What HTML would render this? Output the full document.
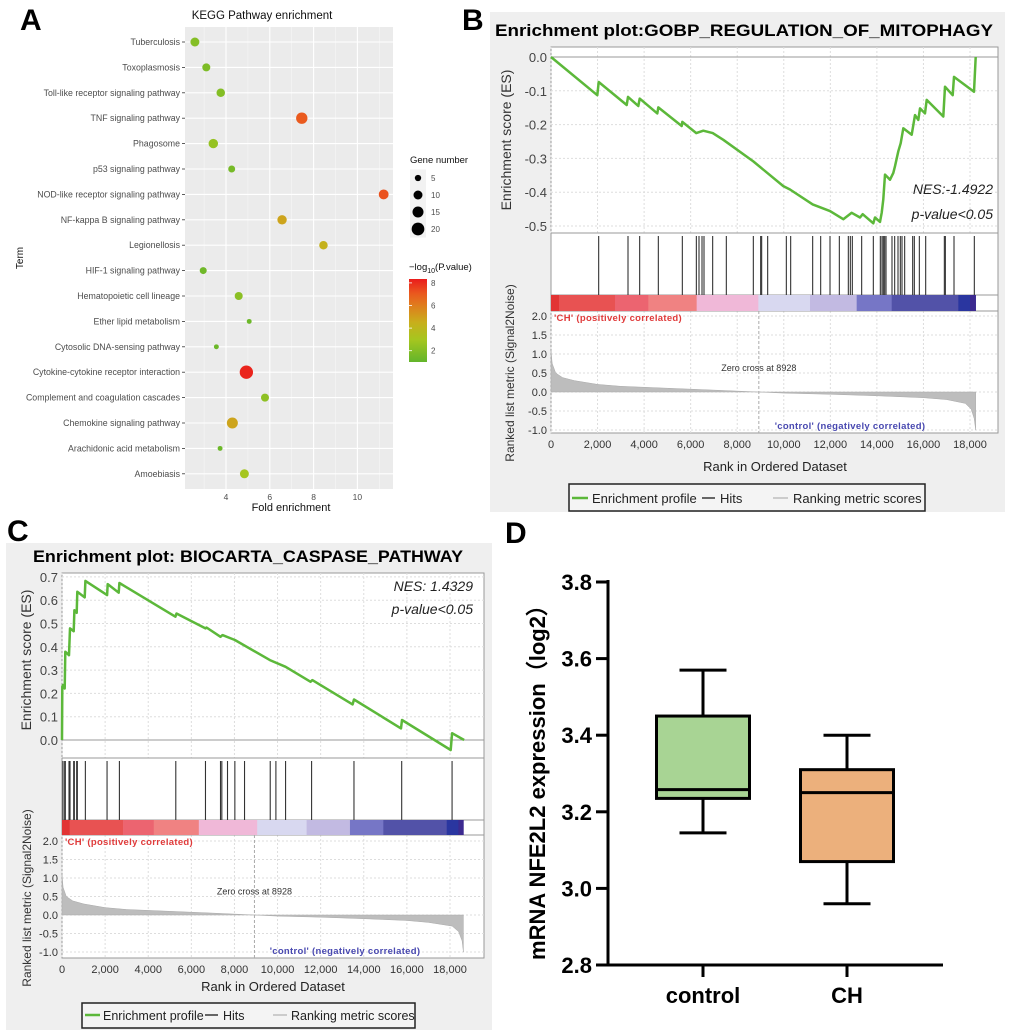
<!DOCTYPE html>
<html><head><meta charset="utf-8"><style>
html,body{margin:0;padding:0;background:#fff;}
svg{display:block;font-family:"Liberation Sans",Arial,sans-serif;}
</style></head><body>
<svg id="fig" width="1020" height="1036" viewBox="0 0 1020 1036" xmlns="http://www.w3.org/2000/svg">
<defs>
<linearGradient id="cbar" x1="0" y1="1" x2="0" y2="0">
<stop offset="0" stop-color="#62b52b"/><stop offset="0.27" stop-color="#a6c61f"/><stop offset="0.48" stop-color="#c9ae1c"/><stop offset="0.68" stop-color="#df7d1d"/><stop offset="0.82" stop-color="#ea5a1e"/><stop offset="1" stop-color="#ea1c1c"/>
</linearGradient>
</defs>
<text x="20" y="30" font-size="30" font-weight="bold">A</text>
<text x="462" y="30" font-size="30" font-weight="bold">B</text>
<text x="7" y="541" font-size="30" font-weight="bold">C</text>
<text x="505" y="543" font-size="30" font-weight="bold">D</text>

<g id="panelA">
<text x="262" y="19" font-size="11.5" text-anchor="middle" fill="#111">KEGG Pathway enrichment</text>
<rect x="185" y="27" width="208" height="462" fill="#ebebeb"/>
<g id="gridA"></g>
<g id="dotsA"></g>
<text x="291" y="511" font-size="11" text-anchor="middle" fill="#111">Fold enrichment</text>
<text transform="translate(23,258) rotate(-90)" font-size="10" text-anchor="middle" fill="#111">Term</text>
<text x="410" y="163" font-size="9.5" fill="#111">Gene number</text>
<g id="sizeLegend"></g>
<text x="409" y="270" font-size="9.5" fill="#111">−log<tspan font-size="7" dy="3">10</tspan><tspan dy="-3">(P.value)</tspan></text>
<rect x="409" y="279" width="18" height="83" fill="url(#cbar)"/>
<g id="cbarTicks"></g>
</g>

<g id="panelB">
<rect x="490" y="12" width="515" height="500" fill="#efefef"/>
<text x="495" y="36" font-size="17" font-weight="bold" textLength="498" lengthAdjust="spacingAndGlyphs" fill="#000">Enrichment plot:GOBP_REGULATION_OF_MITOPHAGY</text>
<g id="gB"></g>
<text transform="translate(511,140) rotate(-90)" font-size="14" text-anchor="middle" fill="#333">Enrichment score (ES)</text>
<text transform="translate(514,373) rotate(-90)" font-size="12" text-anchor="middle" fill="#333">Ranked list metric (Signal2Noise)</text>
<text x="775" y="471" font-size="13" text-anchor="middle" fill="#222">Rank in Ordered Dataset</text>
<text x="993" y="194" font-size="14" font-style="italic" text-anchor="end" fill="#222">NES:-1.4922</text>
<text x="993" y="219" font-size="14" font-style="italic" text-anchor="end" fill="#222">p-value&lt;0.05</text>
<g>
<rect x="569" y="484" width="356" height="27" fill="#f4f4f4" stroke="#222" stroke-width="1.5"/>
<line x1="572" y1="498" x2="588" y2="498" stroke="#5cb83a" stroke-width="2.5"/>
<text x="592" y="503" font-size="13" fill="#222">Enrichment profile</text>
<line x1="702" y1="498" x2="715" y2="498" stroke="#666" stroke-width="2"/>
<text x="720" y="503" font-size="13" fill="#222">Hits</text>
<line x1="773" y1="498" x2="788" y2="498" stroke="#ccc" stroke-width="2"/>
<text x="793" y="503" font-size="13" fill="#222">Ranking metric scores</text>
</g>
</g>

<g id="panelC">
<rect x="6" y="543" width="486" height="487" fill="#efefef"/>
<text x="33" y="562" font-size="17" font-weight="bold" textLength="430" lengthAdjust="spacingAndGlyphs" fill="#000">Enrichment plot: BIOCARTA_CASPASE_PATHWAY</text>
<g id="gC"></g>
<text transform="translate(31,660) rotate(-90)" font-size="14" text-anchor="middle" fill="#333">Enrichment score (ES)</text>
<text transform="translate(31,898) rotate(-90)" font-size="12" text-anchor="middle" fill="#333">Ranked list metric (Signal2Noise)</text>
<text x="273" y="991" font-size="13" text-anchor="middle" fill="#222">Rank in Ordered Dataset</text>
<text x="473" y="591" font-size="14" font-style="italic" text-anchor="end" fill="#222">NES: 1.4329</text>
<text x="473" y="614" font-size="14" font-style="italic" text-anchor="end" fill="#222">p-value&lt;0.05</text>
<g>
<rect x="82" y="1003" width="333" height="25" fill="#f4f4f4" stroke="#222" stroke-width="1.5"/>
<line x1="85" y1="1015" x2="100" y2="1015" stroke="#5cb83a" stroke-width="2.5"/>
<text x="103" y="1020" font-size="12.5" fill="#222">Enrichment profile</text>
<line x1="205" y1="1015" x2="218" y2="1015" stroke="#666" stroke-width="2"/>
<text x="223" y="1020" font-size="12.5" fill="#222">Hits</text>
<line x1="273" y1="1015" x2="287" y2="1015" stroke="#ccc" stroke-width="2"/>
<text x="291" y="1020" font-size="12.5" fill="#222">Ranking metric scores</text>
</g>
</g>

<g id="panelD">
<g id="gD"></g>
<text transform="translate(545,777) rotate(-90)" font-size="22" font-weight="bold" text-anchor="middle" fill="#000">mRNA NFE2L2 expression（log2）</text>
</g>
</svg>
<script>
const termsA = ["Tuberculosis","Toxoplasmosis","Toll-like receptor signaling pathway","TNF signaling pathway","Phagosome","p53 signaling pathway","NOD-like receptor signaling pathway","NF-kappa B signaling pathway","Legionellosis","HIF-1 signaling pathway","Hematopoietic cell lineage","Ether lipid metabolism","Cytosolic DNA-sensing pathway","Cytokine-cytokine receptor interaction","Complement and coagulation cascades","Chemokine signaling pathway","Arachidonic acid metabolism","Amoebiasis"];
const foldA = [2.58,3.10,3.76,7.46,3.42,4.26,11.2,6.56,8.45,2.96,4.58,5.06,3.56,4.93,5.78,4.29,3.73,4.84];
const genesA = [10,8,9,16,11,6,12,11,9,6,8,3,3,22,8,15,3,10];
const logpA = [2.0,1.8,2.0,7.0,2.5,1.6,7.2,4.8,4.3,1.4,2.2,1.3,1.3,8.3,2.3,4.8,1.3,3.0];
const xTicksA = [4,6,8,10];
const sizeLegendA = [5,10,15,20];
const cbarTicksA = [8,6,4,2];

const esRanksB = [0,1990,2048,3250,3308,3752,3809,4568,4611,5613,5642,6244,6544,6945,7403,8692,9981,10268,11241,11986,12559,12916,13274,13389,13847,13918,14134,14206,14277,14349,14563,14706,14778,14921,15021,15136,15494,15637,15780,15852,16067,16139,16855,16926,17256,17313,18172,18244];
const esValsB = [0,-0.113,-0.074,-0.142,-0.118,-0.145,-0.123,-0.167,-0.149,-0.204,-0.192,-0.225,-0.218,-0.225,-0.245,-0.309,-0.382,-0.392,-0.436,-0.456,-0.48,-0.461,-0.475,-0.465,-0.492,-0.475,-0.488,-0.461,-0.421,-0.348,-0.363,-0.343,-0.323,-0.279,-0.255,-0.211,-0.230,-0.172,-0.186,-0.152,-0.167,-0.127,-0.176,-0.088,-0.113,-0.059,-0.103,0];
const hitsB = [2048,3308,3809,4611,5642,6244,6358,6487,6573,6945,7532,8692,9007,9050,9308,10110,10296,11241,11585,11986,12387,12773,12859,12945,13346,13847,14148,14220,14277,14334,14392,14649,14764,14907,15007,15079,15193,15537,15609,15824,16096,16898,16941,17313,18186];
const metricRanksB = [0,50,200,500,1000,2000,3000,5000,7000,8928,10000,12000,14000,16000,17000,17800,18050,18180,18244];
const metricValsB = [1.1,0.75,0.5,0.38,0.3,0.2,0.15,0.1,0.05,0,-0.03,-0.06,-0.1,-0.15,-0.2,-0.3,-0.45,-0.7,-1.0];
const barEndsB = [344,2749,4181,6258,8907,11127,13131,14635,17499,18000,18244];
const esTicksB = [0,-0.1,-0.2,-0.3,-0.4,-0.5];

const esRanksC = [0,15,46,124,155,325,372,542,573,681,712,1053,1084,2090,2121,2632,2663,5263,5310,6656,6703,7353,7446,8019,9644,10372,11532,11610,13483,13545,15728,15774,18034,18096,18653];
const esValsC = [0,0.229,0.236,0.221,0.379,0.364,0.479,0.467,0.557,0.546,0.636,0.612,0.683,0.622,0.669,0.632,0.674,0.529,0.543,0.479,0.483,0.443,0.450,0.429,0.343,0.314,0.25,0.257,0.153,0.174,0.050,0.086,-0.043,0.029,0];
const hitsC = [46,124,155,325,372,542,573,681,712,1084,2090,2663,5279,6656,7353,7415,7678,8019,8468,9660,9923,10372,11579,13545,15759,18096];
const metricRanksC = [0,50,200,500,1000,2000,3000,5000,7000,8928,10000,12000,14000,16000,17000,18100,18400,18560,18620];
const metricValsC = [1.1,0.75,0.5,0.38,0.3,0.2,0.15,0.1,0.05,0,-0.03,-0.06,-0.1,-0.15,-0.2,-0.3,-0.45,-0.7,-1.0];
const barEndsC = [356,2833,4257,6347,9056,11347,13359,14907,17848,18390,18622];
const esTicksC = [0.7,0.6,0.5,0.4,0.3,0.2,0.1,0.0];

const barColors = ["#e23434","#e85252","#ec6470","#f08282","#f0b8d8","#d8d8f0","#c2bae2","#7676c6","#5252a8","#2a36a0","#3c2a90"];
const rankTicks = [0,2000,4000,6000,8000,10000,12000,14000,16000,18000];
const metricTicks = [2.0,1.5,1.0,0.5,0.0,-0.5,-1.0];

const groupsD = ["control","CH"];
const minD = [3.145,2.96];
const q1D = [3.235,3.07];
const medD = [3.258,3.25];
const q3D = [3.45,3.31];
const maxD = [3.57,3.40];
const fillD = ["#a8d494","#ecb07c"];
const yTicksD = [2.8,3.0,3.2,3.4,3.6,3.8];

const NS = "http://www.w3.org/2000/svg";
function mk(tag, attrs, parent){ const e=document.createElementNS(NS,tag); for(const k in attrs) e.setAttribute(k,attrs[k]); parent.appendChild(e); return e; }

(function(){
  const grid=document.getElementById('gridA'), dots=document.getElementById('dotsA'), A=document.getElementById('panelA');
  const xA=v=>226+(v-4)*21.9, yA=i=>42+i*25.4, rA=n=>1.42*Math.sqrt(n);
  const stops=[[1,[98,181,43]],[3,[166,198,31]],[4.5,[201,174,28]],[6,[223,125,29]],[7,[234,90,30]],[8.5,[234,28,28]]];
  function col(v){ if(v<=stops[0][0]) return 'rgb('+stops[0][1]+')'; for(let i=1;i<stops.length;i++){ if(v<=stops[i][0]){ const t=(v-stops[i-1][0])/(stops[i][0]-stops[i-1][0]); const c=stops[i-1][1].map((a,j)=>Math.round(a+(stops[i][1][j]-a)*t)); return 'rgb('+c+')'; } } return 'rgb('+stops[stops.length-1][1]+')'; }
  for(let v=3; v<=11; v+=2){ let e=mk('line',{x1:xA(v),x2:xA(v),y1:27,y2:489,stroke:'#f6f6f6','stroke-width':0.6},grid);
    
     }
  xTicksA.forEach(v=>{ let e=mk('line',{x1:xA(v),x2:xA(v),y1:27,y2:489,stroke:'#fff','stroke-width':1.1},grid);
    
    
    let t=mk('text',{x:xA(v),y:500,'font-size':8.5,'text-anchor':'middle',fill:'#4d4d4d'},A); t.textContent=v;
    
     });
  termsA.forEach((name,i)=>{
    let e=mk('line',{x1:185,x2:393,y1:yA(i),y2:yA(i),stroke:'#fff','stroke-width':1.1},grid);
    
    
    let tk=mk('line',{x1:182,x2:185,y1:yA(i),y2:yA(i),stroke:'#333','stroke-width':0.8},grid);
    
    
    let t=mk('text',{x:180,y:yA(i)+3,'font-size':8.8,'text-anchor':'end',fill:'#4d4d4d'},A); t.textContent=name;
    
    
    let c=mk('circle',{cx:xA(foldA[i]),cy:yA(i),r:rA(genesA[i]),fill:col(logpA[i])},dots);
    
    
  });
  const sl=document.getElementById('sizeLegend');
  sizeLegendA.forEach((n,i)=>{ const y=178+i*17;
    let b=mk('rect',{x:410,y:y-8.5,width:16,height:17,fill:'#f2f2f2'},sl);
    
    
    let c=mk('circle',{cx:418,cy:y,r:rA(n),fill:'#000'},sl);
    
    
    let t=mk('text',{x:431,y:y+3,'font-size':8,fill:'#4d4d4d'},sl); t.textContent=n;
    
     });
  const ct=document.getElementById('cbarTicks');
  cbarTicksA.forEach(v=>{ const y=362-(v-1)*11.3;
    let t=mk('text',{x:431,y:y+3,'font-size':8,fill:'#4d4d4d'},ct); t.textContent=v;
    
    
    let l=mk('line',{x1:409,x2:412,y1:y,y2:y,stroke:'#fff','stroke-width':0.8},ct);
    
     });
})();

function gsea(gid, p){
  const g=document.getElementById(gid);
  const X=r=>p.x0+r*p.xs, ES=v=>p.es0-v*p.esk, M=m=>p.m2+(2-m)*p.mk;
  let fr=mk('rect',{x:p.L,y:p.T,width:p.R-p.L,height:p.B-p.T,fill:'#fff',stroke:'#999','stroke-width':1},g);
  
  
  rankTicks.forEach(r=>{ let e=mk('line',{x1:X(r),x2:X(r),y1:p.T,y2:p.esB,stroke:'#ddd','stroke-dasharray':'2,2'},g);
    
    
    let e2=mk('line',{x1:X(r),x2:X(r),y1:p.barB,y2:p.B,stroke:'#ddd','stroke-dasharray':'2,2'},g);
    
    
    let t=mk('text',{x:X(r),y:p.B+15,'font-size':11,'text-anchor':'middle',fill:'#333'},g); t.textContent=r.toLocaleString('en-US');
    
     });
  p.esTicks.forEach(v=>{ let e=mk('line',{x1:p.L,x2:p.R,y1:ES(v),y2:ES(v),stroke:v===0?'#999':'#ddd','stroke-dasharray':v===0?'':'2,2'},g);
    
    
    let t=mk('text',{x:p.L-4,y:ES(v)+5,'font-size':13,'text-anchor':'end',fill:'#444'},g); t.textContent=v.toFixed(1);
    
     });
  metricTicks.forEach(m=>{ let e=mk('line',{x1:p.L,x2:p.R,y1:M(m),y2:M(m),stroke:'#ddd','stroke-dasharray':'2,2'},g);
    
    
    let t=mk('text',{x:p.L-4,y:M(m)+4,'font-size':11,'text-anchor':'end',fill:'#333'},g); t.textContent=m.toFixed(1);
    
     });
  [p.esB,p.hitB,p.barB].forEach(y=>{ let e=mk('line',{x1:p.L,x2:p.R,y1:y,y2:y,stroke:'#999'},g);
    
     });
  let d='M'+X(p.mr[0])+','+M(0);
  p.mr.forEach((r,i)=>{ d+=' L'+X(r).toFixed(1)+','+M(p.mv[i]).toFixed(1); });
  d+=' L'+X(p.mr[p.mr.length-1])+','+M(0)+' Z';
  let ar=mk('path',{d:d,fill:'#bdbdbd',stroke:'#aaa','stroke-width':0.5},g);
  
  
  let zc=mk('line',{x1:X(8928),x2:X(8928),y1:p.barB,y2:p.B,stroke:'#aaa','stroke-dasharray':'3,2'},g);
  
  
  let zt=mk('text',{x:X(8928),y:M(0.55),'font-size':9,'text-anchor':'middle',fill:'#333'},g); zt.textContent='Zero cross at 8928';
  
  
  let pt=mk('text',{x:p.L+3,y:p.barB+10,'font-size':9.5,'font-weight':'bold',fill:'#e03a3a','letter-spacing':'0.3'},g); pt.textContent="'CH' (positively correlated)";
  
  
  let nt=mk('text',{x:p.negX,y:p.B-4,'font-size':9.5,'font-weight':'bold',fill:'#4848b0','text-anchor':'middle','letter-spacing':'0.3'},g); nt.textContent="'control' (negatively correlated)";
  
  
  let prev=0;
  p.bar.forEach((r,i)=>{ let e=mk('rect',{x:X(prev),y:p.hitB,width:X(r)-X(prev)+0.3,height:p.barB-p.hitB,fill:barColors[i]},g);
    
     prev=r; });
  p.hits.forEach(r=>{ let e=mk('line',{x1:X(r),x2:X(r),y1:p.esB+3,y2:p.hitB,stroke:'#333','stroke-width':1.1},g);
    
     });
  let pts=p.er.map((r,i)=>X(r).toFixed(1)+','+ES(p.ev[i]).toFixed(1)).join(' ');
  let c=mk('polyline',{points:pts,fill:'none',stroke:'#5cb83a','stroke-width':2.5,'stroke-linejoin':'round'},g);
  
  
}
gsea('gB',{x0:551,xs:419/18000,es0:57,esk:338,m2:316,mk:38,L:551,R:998,T:47,B:433,esB:233,hitB:295,barB:311,negX:850,
  esTicks:esTicksB,er:esRanksB,ev:esValsB,hits:hitsB,mr:metricRanksB,mv:metricValsB,bar:barEndsB});
gsea('gC',{x0:62,xs:388/18000,es0:740,esk:233,m2:841,mk:37,L:62,R:484,T:573,B:958,esB:758,hitB:820,barB:835,negX:345,
  esTicks:esTicksC,er:esRanksC,ev:esValsC,hits:hitsC,mr:metricRanksC,mv:metricValsC,bar:barEndsC});

(function(){
  const g=document.getElementById('gD');
  const Y=v=>965-(v-2.8)*383, Xd=i=>703+i*144, bw=93, cw=47;
  let ya=mk('line',{x1:608,x2:608,y1:580,y2:966.5,stroke:'#000','stroke-width':3},g);
  
  
  let xa=mk('line',{x1:606.5,x2:943,y1:965,y2:965,stroke:'#000','stroke-width':3},g);
  
  
  yTicksD.forEach(v=>{ let l=mk('line',{x1:596,x2:608,y1:Y(v),y2:Y(v),stroke:'#000','stroke-width':3},g);
    
    
    let t=mk('text',{x:592,y:Y(v)+8,'font-size':22,'font-weight':'bold','text-anchor':'end',fill:'#000'},g); t.textContent=v.toFixed(1);
    
     });
  groupsD.forEach((name,i)=>{ const x=Xd(i);
    let tk=mk('line',{x1:x,x2:x,y1:965,y2:977,stroke:'#000','stroke-width':3},g);
    
    
    let t=mk('text',{x:x,y:1003,'font-size':22,'font-weight':'bold','text-anchor':'middle',fill:'#000'},g); t.textContent=name;
    
    
    let w1=mk('line',{x1:x,x2:x,y1:Y(maxD[i]),y2:Y(q3D[i]),stroke:'#000','stroke-width':3},g);
    
    
    let w2=mk('line',{x1:x,x2:x,y1:Y(q1D[i]),y2:Y(minD[i]),stroke:'#000','stroke-width':3},g);
    
    
    let c1=mk('line',{x1:x-cw/2,x2:x+cw/2,y1:Y(maxD[i]),y2:Y(maxD[i]),stroke:'#000','stroke-width':3},g);
    
    
    let c2=mk('line',{x1:x-cw/2,x2:x+cw/2,y1:Y(minD[i]),y2:Y(minD[i]),stroke:'#000','stroke-width':3},g);
    
    
    let b=mk('rect',{x:x-bw/2,y:Y(q3D[i]),width:bw,height:Y(q1D[i])-Y(q3D[i]),fill:fillD[i],stroke:'#000','stroke-width':3},g);
    
    
    let m=mk('line',{x1:x-bw/2,x2:x+bw/2,y1:Y(medD[i]),y2:Y(medD[i]),stroke:'#000','stroke-width':3},g);
    
    
  });
})();
</script>
</body></html>
